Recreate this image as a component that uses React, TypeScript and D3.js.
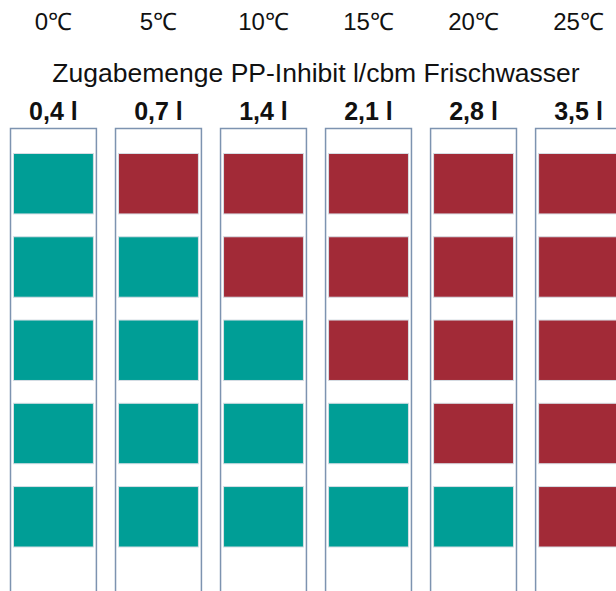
import * as d3 from 'd3';

// column headers
const temperatures = ['0℃', '5℃', '10℃', '15℃', '20℃', '25℃'];
const doses = ['0,4 l', '0,7 l', '1,4 l', '2,1 l', '2,8 l', '3,5 l'];
const title = 'Zugabemenge PP-Inhibit l/cbm Frischwasser';

// test result per row (top to bottom), one entry per column
const row1 = ['ok', 'fail', 'fail', 'fail', 'fail', 'fail'];
const row2 = ['ok', 'ok', 'fail', 'fail', 'fail', 'fail'];
const row3 = ['ok', 'ok', 'ok', 'fail', 'fail', 'fail'];
const row4 = ['ok', 'ok', 'ok', 'ok', 'fail', 'fail'];
const row5 = ['ok', 'ok', 'ok', 'ok', 'ok', 'fail'];
const rows = [row1, row2, row3, row4, row5];

const W = 616;
const H = 591;

const colors: Record<string, string> = { ok: '#009e96', fail: '#a22a37' };

export default function App() {
  const x = d3
    .scaleBand<number>()
    .domain(d3.range(doses.length))
    .range([10.5, 621.5])
    .paddingInner(0.182)
    .paddingOuter(0);

  const y = d3
    .scaleBand<number>()
    .domain(d3.range(rows.length))
    .range([153.5, 547])
    .paddingInner(0.274)
    .paddingOuter(0);

  const boxTop = 128.5;
  const inset = 3;
  const font = '"Liberation Sans", Arial, sans-serif';
  const mid = (x.range()[0] + x.range()[1]) / 2;

  return (
    <svg
      width={W}
      height={H}
      style={{ position: 'absolute', left: 0, top: 0, background: '#fff' }}
    >
      {/* temperature headers */}
      {temperatures.map((t, i) => (
        <text
          key={t}
          x={x(i)! + x.bandwidth() / 2}
          y={30}
          textAnchor="middle"
          fontFamily={font}
          fontSize={24}
          fill="#111"
        >
          {t}
        </text>
      ))}

      <text x={mid} y={82} textAnchor="middle" fontFamily={font} fontSize={26.5} fill="#111">
        {title}
      </text>

      {doses.map((d, i) => (
        <text
          key={d}
          x={x(i)! + x.bandwidth() / 2}
          y={120}
          textAnchor="middle"
          fontFamily={font}
          fontSize={25}
          fontWeight="bold"
          fill="#111"
        >
          {d}
        </text>
      ))}

      {/* open boxes per column */}
      {doses.map((d, i) => {
        const x0 = x(i)!;
        const x1 = x0 + x.bandwidth();
        return (
          <path
            key={'box' + d}
            d={`M${x0},${H + 5}V${boxTop}H${x1}V${H + 5}`}
            fill="none"
            stroke="#7d93b0"
            strokeWidth={1.5}
          />
        );
      })}

      {/* result cells */}
      {rows.map((row, r) =>
        row.map((v, c) => (
          <rect
            key={`${r}-${c}`}
            x={x(c)! + inset}
            y={y(r)!}
            width={x.bandwidth() - inset * 2}
            height={y.bandwidth()}
            fill={colors[v]}
            stroke="#d6dde4"
            strokeWidth={1}
          />
        ))
      )}
    </svg>
  );
}
